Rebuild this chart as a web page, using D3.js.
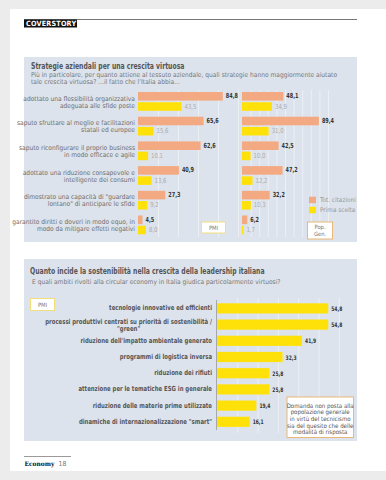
<!DOCTYPE html>
<html>
<head>
<meta charset="utf-8">
<script src="https://cdn.jsdelivr.net/npm/d3@7"></script>
<style>
  body { margin: 0; background: #ececec; }
  svg { display: block; font-family: "Liberation Sans Narrow", "DejaVu Sans Condensed", "Roboto", sans-serif; }
</style>
</head>
<body>
<svg id="chart" width="386" height="480"></svg>
<script>
// strategie aziendali (grafico in alto)
var strategie = [
  ['adottato una flessibilità organizzativa', 'adeguata alle sfide poste'],
  ['saputo sfruttare al meglio e facilitazioni', 'statali ed europee'],
  ['saputo riconfigurare il proprio business', 'in modo efficace e agile'],
  ['adottato una riduzione consapevole e', 'intelligente dei consumi'],
  ['dimostrato una capacità di "guardare', 'lontano" di anticipare le sfide'],
  ['garantito diritti e doveri in modo equo, in', 'modo da mitigare effetti negativi']
];
var pmiTot = [84.8, 65.6, 62.6, 40.9, 27.3, 4.5];
var pmiPrima = [43.5, 15.6, 10.1, 13.6, 9.2, 8.0];
var popTot = [48.1, 89.4, 42.5, 47.2, 32.2, 6.2];
var popPrima = [34.9, 31.0, 10.0, 12.2, 10.3, 1.7];
var legenda = ['Tot. citazioni', 'Prima scelta'];

// ambiti circular economy (grafico in basso)
var ambiti = [
  ['tecnologie innovative ed efficienti'],
  ['processi produttivi centrati su priorità di sostenibilità /', '"green"'],
  ["riduzione dell'impatto ambientale generato"],
  ['programmi di logistica inversa'],
  ['riduzione dei rifiuti'],
  ['attenzione per le tematiche ESG in generale'],
  ['riduzione delle materie prime utilizzate'],
  ['dinamiche di internazionalizzazione "smart"']
];
var ambitiPmi = [54.8, 54.8, 41.9, 32.3, 25.8, 25.8, 19.4, 16.1];

var nota = ['Domanda non posta alla', 'popolazione generale', 'in virtù del tecnicismo', 'sia del quesito che delle', 'modalità di risposta'];

var ORANGE = '#f3aa82', YELLOW = '#ffe10a', PANEL = '#dde3ec';
var it = d3.formatLocale({decimal: ',', thousands: '.', grouping: [3], currency: ['€', '']});
var fmt = it.format('.1f');

var svg = d3.select('#chart');

// stringe orizzontalmente i testi (il font originale è un DIN condensed)
function condense(sel, f) {
  sel.each(function() {
    var w = this.getComputedTextLength();
    d3.select(this).attr('textLength', w * f).attr('lengthAdjust', 'spacingAndGlyphs');
  });
}

// pagina
svg.append('rect').attr('x', 10).attr('y', 9).attr('width', 376).attr('height', 462).attr('fill', '#fff');

// testata
svg.append('line').attr('x1', 24).attr('x2', 357).attr('y1', 19.5).attr('y2', 19.5)
    .attr('stroke', '#777').attr('stroke-width', 1);
svg.append('rect').attr('x', 24).attr('y', 19.5).attr('width', 53).attr('height', 8).attr('fill', '#111');
svg.append('text').attr('x', 26).attr('y', 23.7).attr('dominant-baseline', 'central')
    .attr('font-size', 7.2).attr('font-weight', 'bold').attr('fill', '#fff').attr('letter-spacing', 0.2)
    .text('COVERSTORY');

// ---------------- pannello 1 ----------------
svg.append('rect').attr('x', 24).attr('y', 57).attr('width', 333).attr('height', 185).attr('fill', PANEL);

svg.append('text').attr('x', 31).attr('y', 65.8).attr('dominant-baseline', 'central')
    .attr('font-size', 8.4).attr('font-weight', 'bold').attr('fill', '#555')
    .text('Strategie aziendali per una crescita virtuosa')
    .call(condense, 0.81);

svg.selectAll('.sub1')
    .data(['Più in particolare, per quanto attiene al tessuto aziendale, quali strategie hanno maggiormente aiutato',
           'tale crescita virtuosa? ...il fatto che l\u2019Italia abbia...'])
  .enter().append('text')
    .attr('class', 'sub1')
    .attr('x', 31)
    .attr('y', function(d, i) { return 75.4 + i * 6.8; })
    .attr('dominant-baseline', 'central')
    .attr('font-size', 6.6).attr('fill', '#777')
    .text(function(d) { return d; });

var idx = d3.range(strategie.length);
var y1 = d3.scaleBand().domain(idx).range([92, 92 + 24.7 * idx.length]);
var xL = d3.scaleLinear().domain([0, 100]).range([138, 238]);
var xR = d3.scaleLinear().domain([0, 100]).range([242, 328]);
var barH = 8.6;

function gridlines(g, x, ticks, y0, y1v) {
  g.selectAll('line.grid' + ticks)
      .data(x.ticks(ticks).filter(function(t) { return t > 0; }))
    .enter().append('line')
      .attr('x1', function(d) { return x(d) + 0.5; })
      .attr('x2', function(d) { return x(d) + 0.5; })
      .attr('y1', y0).attr('y2', y1v)
      .attr('stroke', '#fff').attr('stroke-opacity', 0.45);
}

var g1 = svg.append('g');
gridlines(g1, xL, 5, 90, 237);
gridlines(g1, xR, 10, 90, 237);

function drawGroup(g, x, tot, prima, limit) {
  g.selectAll(null).data(tot).enter().append('rect')
      .attr('x', x(0)).attr('y', function(d, i) { return y1(i); })
      .attr('width', function(d) { return x(d) - x(0); })
      .attr('height', barH).attr('fill', ORANGE);
  g.selectAll(null).data(prima).enter().append('rect')
      .attr('x', x(0)).attr('y', function(d, i) { return y1(i) + 10.2; })
      .attr('width', function(d) { return x(d) - x(0); })
      .attr('height', barH).attr('fill', YELLOW);

  g.selectAll(null).data(tot).enter().append('text')
      .attr('x', function(d) { return x(d) + 18 > limit ? x(d) - 2 : x(d) + 3; })
      .attr('text-anchor', function(d) { return x(d) + 18 > limit ? 'end' : 'start'; })
      .attr('y', function(d, i) { return y1(i) + barH / 2; })
      .attr('dominant-baseline', 'central')
      .attr('font-size', 7).attr('font-weight', 'bold').attr('fill', '#333')
      .text(fmt)
      .call(condense, 0.78);
  g.selectAll(null).data(prima).enter().append('text')
      .attr('x', function(d) { return x(d) + 3; })
      .attr('y', function(d, i) { return y1(i) + 10.2 + barH / 2; })
      .attr('dominant-baseline', 'central')
      .attr('font-size', 7).attr('fill', '#aaa')
      .text(fmt)
      .call(condense, 0.85);
}
drawGroup(g1, xL, pmiTot, pmiPrima, 242);
drawGroup(g1, xR, popTot, popPrima, 357);

// etichette righe
var lab1 = g1.selectAll('g.lab1').data(strategie).enter().append('g').attr('class', 'lab1');
lab1.selectAll('text').data(function(d, i) { return d.map(function(t, k) { return {t: t, k: k, i: i}; }); })
  .enter().append('text')
    .attr('x', 135)
    .attr('y', function(d) { return y1(d.i) + 6.5 + d.k * 7; })
    .attr('text-anchor', 'end').attr('dominant-baseline', 'central')
    .attr('font-size', 6.6).attr('fill', '#6e6e6e')
    .text(function(d) { return d.t; });

// legenda
var leg = g1.selectAll('g.leg').data(legenda).enter().append('g').attr('class', 'leg')
    .attr('transform', function(d, i) { return 'translate(309,' + (196.7 + i * 10) + ')'; });
leg.append('rect').attr('width', 7).attr('height', 6.5).attr('fill', function(d, i) { return i ? YELLOW : ORANGE; });
leg.append('text').attr('x', 11).attr('y', 3.3).attr('dominant-baseline', 'central')
    .attr('font-size', 6.4).attr('fill', '#999').text(function(d) { return d; });

// etichette PMI / Pop. Gen.
function tagBox(x, y, w, h, stroke, lines) {
  svg.append('rect').attr('x', x).attr('y', y).attr('width', w).attr('height', h)
      .attr('fill', '#fff').attr('stroke', stroke).attr('stroke-width', 1);
  svg.selectAll(null).data(lines).enter().append('text')
      .attr('x', x + w / 2)
      .attr('y', function(d, i) { return y + h / 2 + (i - (lines.length - 1) / 2) * 6.6; })
      .attr('text-anchor', 'middle').attr('dominant-baseline', 'central')
      .attr('font-size', 5.8).attr('fill', '#777')
      .text(function(d) { return d; });
}
tagBox(201.5, 222, 24, 11, '#f1df7c', ['PMI']);
tagBox(307.5, 222, 25, 17, '#e9b877', ['Pop.', 'Gen.']);

// ---------------- pannello 2 ----------------
svg.append('rect').attr('x', 24).attr('y', 259).attr('width', 333).attr('height', 182).attr('fill', PANEL);

svg.append('text').attr('x', 30).attr('y', 270.7).attr('dominant-baseline', 'central')
    .attr('font-size', 8.4).attr('font-weight', 'bold').attr('fill', '#555')
    .text('Quanto incide la sostenibilità nella crescita della leadership italiana')
    .call(condense, 0.81);
svg.append('text').attr('x', 32).attr('y', 282.3).attr('dominant-baseline', 'central')
    .attr('font-size', 6.6).attr('fill', '#777')
    .text('E quali ambiti rivolti alla circular economy in Italia giudica particolarmente virtuosi?');

tagBox(30.5, 298.5, 24, 12, '#f1df7c', ['PMI']);

var idx2 = d3.range(ambiti.length);
var y2 = d3.scaleBand().domain(idx2).range([303.3, 303.3 + 16.2 * idx2.length]);
var x2 = d3.scaleLinear().domain([0, 60]).range([217, 338.8]);

var g2 = svg.append('g');
gridlines(g2, x2, 6, 298, 433);

g2.selectAll('rect.bar2').data(ambitiPmi).enter().append('rect')
    .attr('class', 'bar2')
    .attr('x', x2(0)).attr('y', function(d, i) { return y2(i); })
    .attr('width', function(d) { return x2(d) - x2(0); })
    .attr('height', 10.2).attr('fill', YELLOW);

g2.append('line').attr('x1', x2(0) - 0.5).attr('x2', x2(0) - 0.5).attr('y1', 300).attr('y2', 430)
    .attr('stroke', '#999').attr('stroke-width', 0.8);

g2.selectAll('text.val2').data(ambitiPmi).enter().append('text')
    .attr('class', 'val2')
    .attr('x', function(d) { return x2(d) + 3; })
    .attr('y', function(d, i) { return y2(i) + 5.1; })
    .attr('dominant-baseline', 'central')
    .attr('font-size', 6.2).attr('font-weight', 'bold').attr('fill', '#333')
    .text(fmt)
    .call(condense, 0.8);

var lab2 = g2.selectAll('g.lab2').data(ambiti).enter().append('g').attr('class', 'lab2');
lab2.each(function(d, i) {
  var g = d3.select(this);
  var cy = y2(i) + 5.1;
  var first = g.append('text')
      .attr('x', 212)
      .attr('y', d.length > 1 ? cy - 2.4 : cy)
      .attr('text-anchor', 'end').attr('dominant-baseline', 'central')
      .attr('font-size', 7).attr('font-weight', 'bold').attr('fill', '#555')
      .text(d[0])
      .call(condense, 0.85);
  if (d.length > 1) {
    var w = +first.attr('textLength');
    g.append('text')
        .attr('x', 212 - w / 2)
        .attr('y', cy + 4.4)
        .attr('text-anchor', 'middle').attr('dominant-baseline', 'central')
        .attr('font-size', 7).attr('font-weight', 'bold').attr('fill', '#555')
        .text(d[1])
        .call(condense, 0.85);
  }
});

// nota
svg.append('rect').attr('x', 287).attr('y', 397).attr('width', 66.5).attr('height', 40.5)
    .attr('fill', '#fff').attr('stroke', '#e9b877').attr('stroke-width', 1);
svg.selectAll('text.nota').data(nota).enter().append('text')
    .attr('class', 'nota')
    .attr('x', 320.2)
    .attr('y', function(d, i) { return 405 + i * 6.7; })
    .attr('text-anchor', 'middle').attr('dominant-baseline', 'central')
    .attr('font-size', 6.1).attr('fill', '#555')
    .text(function(d) { return d; });

// piede
svg.append('line').attr('x1', 24).attr('x2', 71).attr('y1', 456.5).attr('y2', 456.5)
    .attr('stroke', '#555').attr('stroke-width', 0.6);
svg.append('text').attr('x', 24.5).attr('y', 463.5).attr('dominant-baseline', 'central')
    .attr('font-family', '"DejaVu Serif", "Liberation Serif", serif')
    .attr('font-size', 6.3).attr('font-weight', 'bold').attr('fill', '#111')
    .attr('textLength', 30).attr('lengthAdjust', 'spacingAndGlyphs')
    .text('Economy');
svg.append('text').attr('x', 58.5).attr('y', 463.5).attr('dominant-baseline', 'central')
    .attr('font-size', 6.8).attr('fill', '#777')
    .text('18');
</script>
</body>
</html>
